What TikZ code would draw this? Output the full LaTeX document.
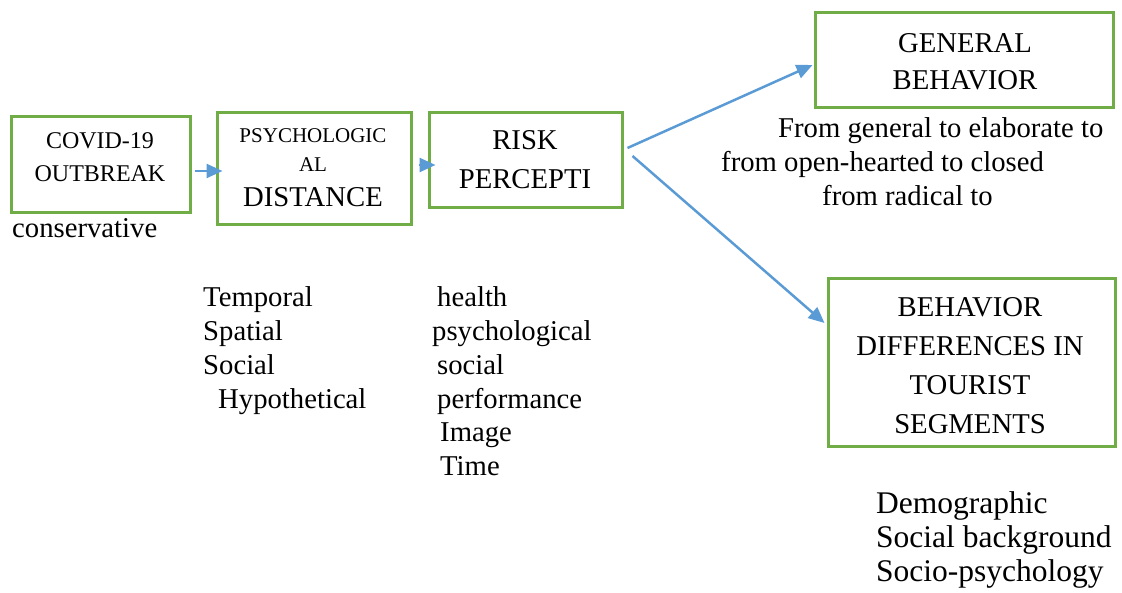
\documentclass[tikz,border=0pt]{standalone}
\usepackage{fontspec}
\setmainfont{Liberation Serif}
\usetikzlibrary{arrows.meta,calc}
\definecolor{boxgreen}{HTML}{70AD47}
\definecolor{flowblue}{HTML}{5B9BD5}
% multi-line text block whose baseline is that of its first line
\newcommand\txtblock[2]{\begin{tabular}[t]{@{}#1@{}}#2\end{tabular}}
\begin{document}
\begin{tikzpicture}[x=1pt,y=-1pt,
  stagebox/.style={draw=boxgreen,line width=3pt,inner sep=0pt,fill=none},
  flow/.style={draw=flowblue,line width=2.5pt,-{Triangle[length=16pt,width=14pt]}},
  txt/.style={inner sep=0pt,anchor=base west},
  ctxt/.style={inner sep=0pt,anchor=base},
  big/.style={font=\fontsize{28.7}{33.7}\selectfont},
]
\useasboundingbox (0,0) rectangle (1122,593);

% stage boxes
\node[stagebox,minimum width=179pt,minimum height=96pt]  (covid) at (100.5,165) {};
\node[stagebox,minimum width=194pt,minimum height=112pt] (psych) at (314,169) {};
\node[stagebox,minimum width=193pt,minimum height=95pt]  (risk)  at (525.5,160.5) {};
\node[stagebox,minimum width=298pt,minimum height=95pt]  (gen)   at (964,60.5) {};
\node[stagebox,minimum width=287pt,minimum height=167pt] (beh)   at (971.5,362.5) {};

% box titles
\node[ctxt,font=\fontsize{24}{33}\selectfont] (covidtxt) at (100,149)
  {\txtblock{c}{COVID-19\\OUTBREAK}};
\node[ctxt,font=\fontsize{21}{29}\selectfont] (psychtxt) at (313,143)
  {\txtblock{c}{PSYCHOLOGIC\\AL\\[6pt]{\fontsize{28.7}{33}\selectfont DISTANCE}}};
\node[ctxt,font=\fontsize{28.7}{39}\selectfont] (risktxt) at (525,150)
  {\txtblock{c}{RISK\\PERCEPTI}};
\node[ctxt,font=\fontsize{28.7}{37}\selectfont] (gentxt) at (965,53)
  {\txtblock{c}{GENERAL\\BEHAVIOR}};
\node[ctxt,font=\fontsize{28.7}{38.7}\selectfont] (behtxt) at (970,317)
  {\txtblock{c}{BEHAVIOR\\DIFFERENCES IN\\TOURIST\\SEGMENTS}};

% flow arrows
\draw[flow] ($(covid.east)+(3,6)$) -- ($(psych.west)+(7,2)$);
\draw[flow] ($(psych.east)+(6,-4)$) -- ($(risk.west)+(8,4.5)$);
\draw[flow] ($(risk.east)+(4,-12.5)$) -- ($(gen.west)+(-1,4.5)$);
\draw[flow] ($(risk.east)+(9,-4.5)$) -- ($(beh.west)+(-2,-39.5)$);

% free text
\node[txt,big] (cons) at (12,238) {conservative};
\node[txt,big] (trend) at (721,138)
  {\txtblock{l}{\hspace*{57pt}From general to elaborate to\\from open-hearted to closed\\\hspace*{101pt}from radical to}};
\node[txt,big] (dist) at (203,307)
  {\txtblock{l}{Temporal\\Spatial\\Social\\\hspace*{15pt}Hypothetical}};
\node[txt,big] (risks) at (432,307)
  {\txtblock{l}{\hspace*{5pt}health\\psychological\\\hspace*{5pt}social\\\hspace*{5pt}performance\\\hspace*{8pt}Image\\\hspace*{8pt}Time}};
\node[txt,font=\fontsize{31.5}{34}\selectfont] (segs) at (876,513)
  {\txtblock{l}{Demographic\\Social background\\Socio-psychology}};
\end{tikzpicture}
\end{document}
